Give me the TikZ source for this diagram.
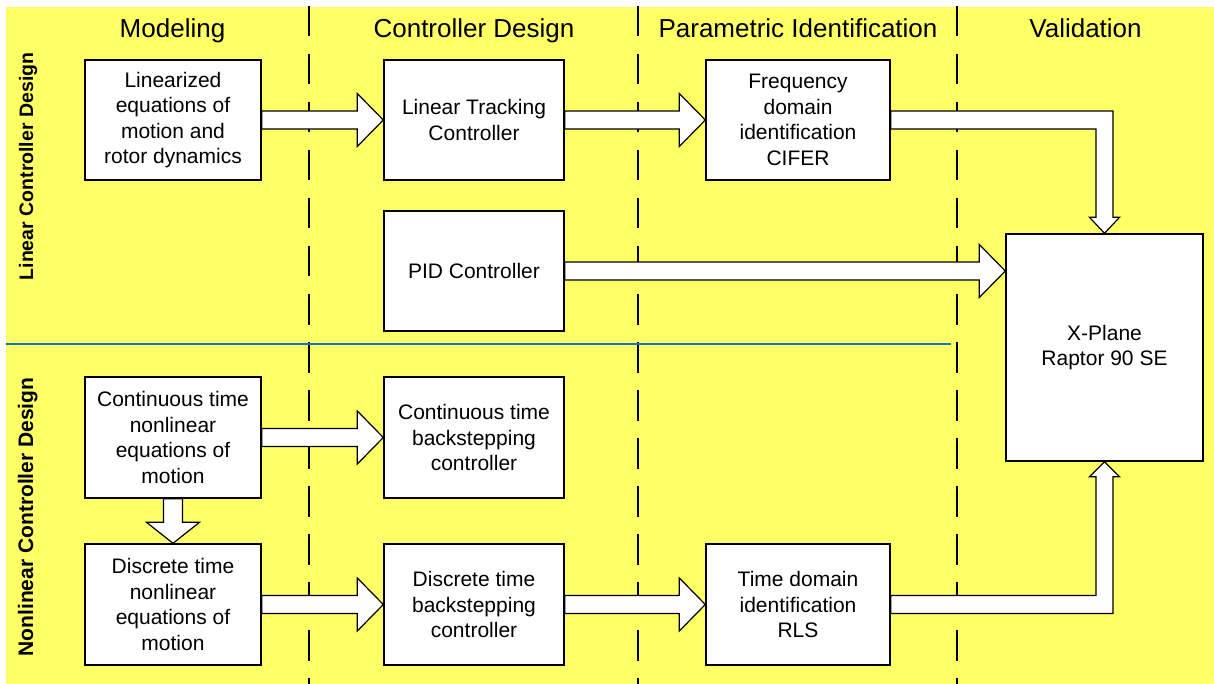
\documentclass[tikz,border=0pt]{standalone}
\usepackage{fontspec}
\setmainfont{Liberation Sans}
\usetikzlibrary{calc}
\definecolor{bgyellow}{RGB}{255,255,102}
\definecolor{sepblue}{RGB}{25,115,190}
% straight block arrow between two points at the same height
\newcommand\blockH[2]{%
  \draw[blockarrow] ($(#1)+(0,-9)$) -- ($(#2)+(-26,-9)$) -- ($(#2)+(-26,-26.5)$) -- (#2)
    -- ($(#2)+(-26,26.5)$) -- ($(#2)+(-26,9)$) -- ($(#1)+(0,9)$) -- cycle;}
\begin{document}
\begin{tikzpicture}[x=1pt,y=-1pt,
  box/.style={draw=black, line width=1.4pt, fill=white, inner sep=0pt, align=center,
    font=\fontsize{21}{25.5}\selectfont},
  blockarrow/.style={draw=black, line width=1.2pt, fill=white, line join=miter},
  colhead/.style={font=\fontsize{26}{30}\selectfont, anchor=base},
  lane/.style={rotate=90, anchor=base},
  phase/.style={line width=2pt, dash pattern=on 30.5pt off 17.5pt}]
\useasboundingbox (0,0) rectangle (1214,684);
\fill[bgyellow] (6,7) rectangle (1214,684);

% phase dividers
\draw[phase] (309,6) -- (309,684);
\draw[phase] (638,6) -- (638,684);
\draw[phase] (957,6) -- (957,684);
% linear / nonlinear separator
\draw[sepblue, line width=2pt] (6,344) -- (951,344);

% column headings
\node[colhead] (hmod) at (172.5,38) {Modeling};
\node[colhead] (hctl) at (474,38) {Controller Design};
\node[colhead] (hpar) at (798,38) {Parametric Identification};
\node[colhead] (hval) at (1085.5,38) {Validation};

% lane labels
\node[lane, font=\bfseries\fontsize{19.5}{23}\selectfont] (llin) at (33,166.5)
  {Linear Controller Design};
\node[lane, font=\bfseries\fontsize{21}{25}\selectfont] (lnon) at (33,517)
  {Nonlinear Controller Design};

% blocks
\node[box, minimum width=176pt, minimum height=120pt] (lin) at (173,120)
  {Linearized\\equations of\\motion and\\rotor dynamics};
\node[box, minimum width=180pt, minimum height=120pt] (ltc) at (474,120)
  {Linear Tracking\\Controller};
\node[box, minimum width=184pt, minimum height=120pt] (fid) at (798,120)
  {Frequency\\domain\\identification\\CIFER};
\node[box, minimum width=180pt, minimum height=120pt] (pid) at (474,271)
  {PID Controller};
\node[box, minimum width=197pt, minimum height=227pt] (xp) at (1104.5,347.5)
  {X-Plane\\Raptor 90 SE};
\node[box, minimum width=176pt, minimum height=121pt] (cnl) at (173,437.5)
  {Continuous time\\nonlinear\\equations of\\motion};
\node[box, minimum width=180pt, minimum height=121pt] (cbs) at (474,437.5)
  {Continuous time\\backstepping\\controller};
\node[box, minimum width=176pt, minimum height=121pt] (dnl) at (173,604.5)
  {Discrete time\\nonlinear\\equations of\\motion};
\node[box, minimum width=180pt, minimum height=121pt] (dbs) at (474,604.5)
  {Discrete time\\backstepping\\controller};
\node[box, minimum width=184pt, minimum height=121pt] (rls) at (798,604.5)
  {Time domain\\identification\\RLS};

% straight block arrows
\blockH{lin.east}{ltc.west}
\blockH{ltc.east}{fid.west}
\blockH{pid.east}{xp.west |- pid.east}
\blockH{cnl.east}{cbs.west}
\blockH{dnl.east}{dbs.west}
\blockH{dbs.east}{rls.west}

% continuous model -> discrete model
\draw[blockarrow] ($(cnl.south)+(-9.5,0)$) -- ($(dnl.north)+(-9.5,-21)$) -- ($(dnl.north)+(-26.5,-21)$)
  -- (dnl.north) -- ($(dnl.north)+(26.5,-21)$) -- ($(dnl.north)+(9.5,-21)$)
  -- ($(cnl.south)+(9.5,0)$) -- cycle;

% elbow arrows into the simulator
\draw[blockarrow] ($(fid.east)+(0,-9)$) -- ($(xp.north |- fid.east)+(8.5,-9)$)
  -- ($(xp.north)+(8.5,-16)$) -- ($(xp.north)+(15,-16)$) -- (xp.north)
  -- ($(xp.north)+(-15,-16)$) -- ($(xp.north)+(-8.5,-16)$)
  -- ($(xp.north |- fid.east)+(-8.5,9)$) -- ($(fid.east)+(0,9)$) -- cycle;
\draw[blockarrow] ($(rls.east)+(0,-9)$) -- ($(xp.south |- rls.east)+(-8.5,-9)$)
  -- ($(xp.south)+(-8.5,15)$) -- ($(xp.south)+(-15,15)$) -- (xp.south)
  -- ($(xp.south)+(15,15)$) -- ($(xp.south)+(8.5,15)$)
  -- ($(xp.south |- rls.east)+(8.5,9)$) -- ($(rls.east)+(0,9)$) -- cycle;
\end{tikzpicture}
\end{document}
